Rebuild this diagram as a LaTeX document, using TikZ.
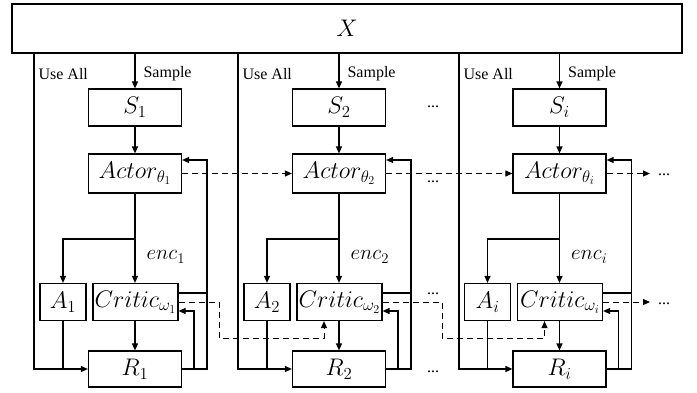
\RequirePackage{fix-cm}
\documentclass[tikz,border=0pt]{standalone}
\usepackage{fontspec}
\newfontfamily\labfont{Liberation Serif}
\usetikzlibrary{arrows.meta}
\begin{document}
\begin{tikzpicture}[x=1pt,y=-1pt, line width=1.2pt,
  >={Triangle[length=7pt,width=6pt]},
  box/.style={draw, line width=1.2pt, inner sep=0pt, font=\fontsize{24}{28}\selectfont},
  lab/.style={font=\labfont\fontsize{16}{18}\selectfont, inner sep=0pt},
  enclab/.style={font=\fontsize{21}{25}\selectfont, inner sep=0pt, anchor=west},
  dots/.style={font=\labfont\fontsize{16}{18}\selectfont, inner sep=0pt, anchor=base},
  dsh/.style={line width=1pt, dash pattern=on 6pt off 4pt}]
\useasboundingbox (0,0) rectangle (697,392);
\node[box, minimum width=670pt, minimum height=49pt] (X) at (347,28.5) {$X$};
\foreach \n/\cx/\ux/\s in {1/135/34/1, 2/339/238/2, 3/559.5/459/i}{
  \node[box, minimum width=93pt, minimum height=37pt] (S\n) at (\cx,107.5) {$S_{\s}$};
  \node[box, minimum width=93pt, minimum height=39pt] (Ac\n) at (\cx,173.5) {$Actor_{\theta_{\s}}$};
  \node[box, minimum width=46pt, minimum height=37pt] (A\n) at (\cx-72,302) {$A_{\s}$};
  \node[box, minimum width=85pt, minimum height=37pt] (C\n) at (\cx+0.5,302) {$Critic_{\omega_{\s}}$};
  \node[box, minimum width=93pt, minimum height=36pt] (R\n) at (\cx,369) {$R_{\s}$};
  % sample
  \draw[->] (X.south -| S\n.north) -- (S\n.north);
  \node[lab, anchor=west] at (\cx+8,74) {Sample};
  \draw[->] (S\n) -- (Ac\n);
  % use all
  \coordinate (U\n) at (\ux,0);
  \draw[->] (X.south -| U\n) |- (R\n.west);
  \node[lab, anchor=west] at (\ux+4,74) {Use All};
  % actor to critic and A
  \draw[->] (Ac\n.south) -- (Ac\n.south |- C\n.north);
  \coordinate (J\n) at (\cx,239);
  \draw[->] (J\n) -| (A\n.north);
  \node[enclab] at (\cx+11,257) {$enc_{\s}$};
  \draw (A\n.south) -- (A\n.south |- R\n.west);
  \draw[->] (Ac\n.south |- C\n.south) -- (R\n.north);
  % feedback
  \coordinate (F\n) at (\cx+72,160);
  \draw[->] (R\n.east) -| (F\n) -- (F\n -| Ac\n.east);
  \coordinate (CC\n) at (\cx,293);
  \draw (CC\n -| C\n.east) -- (CC\n -| F\n);
  \coordinate (I\n) at (\cx+59,311);
  \draw[->] (R\n.east -| I\n) -- (I\n) -- (I\n -| C\n.east);
}
% dashed actor links
\draw[dsh,->] (Ac1.east) -- (Ac2.west);
\draw[dsh,->] (Ac2.east) -- (Ac3.west);
\coordinate (EA) at (650,0);
\draw[dsh,->] (Ac3.east) -- (Ac3.east -| EA);
% dashed critic links
\coordinate (D1) at (219,338);
\coordinate (B2) at (324,0);
\draw[dsh,->] (C1.east) -| (D1) -| (B2 |- C2.south);
\coordinate (D2) at (442,338);
\coordinate (B3) at (544.5,0);
\draw[dsh,->] (C2.east) -| (D2) -| (B3 |- C3.south);
\draw[dsh,->] (C3.east) -- (C3.east -| EA);
% dots
\node[dots] at (433,107) {...};
\node[dots] at (433,182) {...};
\node[dots] at (433,294) {...};
\node[dots] at (433,372) {...};
\node[dots] at (664,175.5) {...};
\node[dots] at (664,304) {...};
\end{tikzpicture}
\end{document}
